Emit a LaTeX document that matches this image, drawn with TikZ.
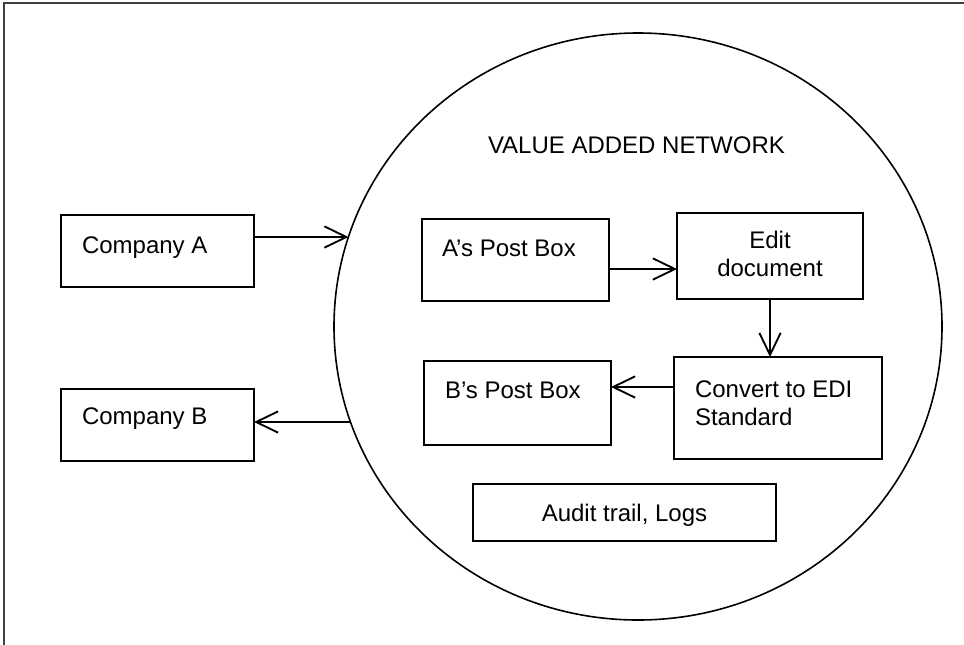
\documentclass[tikz,border=0pt]{standalone}
\usepackage{fontspec}
\setmainfont{Liberation Sans}
\usetikzlibrary{arrows.meta,shapes.geometric,calc}
\begin{document}
\begin{tikzpicture}[x=0.75pt,y=-0.75pt,
  box/.style={draw,line width=1pt,rectangle,inner sep=0,outer sep=0},
  txt/.style={inner sep=0,outer sep=0,font=\fontsize{18}{21}\selectfont},
  arr/.style={line width=1pt,-{Straight Barb[length=16.5pt,width=16pt,line width=1.4pt]}}]
\useasboundingbox (0,0) rectangle (964,644);
\begin{scope}
\clip (0,0) rectangle (964,644);
\draw[line width=1pt,black!75] (4,3) rectangle (990,670);
\end{scope}
% network
\node[ellipse,draw,line width=1.2pt,minimum width=456pt,minimum height=440.25pt,inner sep=0,outer sep=0] (van) at (638,326.5) {};
\node[txt,anchor=base west] (title) at (488,153) {VALUE ADDED NETWORK};
% boxes
\node[box,minimum width=144.75pt,minimum height=54pt] (ca) at (157.5,251) {};
\node[box,minimum width=144.75pt,minimum height=54pt] (cb) at (157.5,425) {};
\node[box,minimum width=140.25pt,minimum height=61.5pt] (ap) at (515.5,260) {};
\node[box,minimum width=139.5pt,minimum height=64.5pt] (ed) at (770,256) {};
\node[box,minimum width=156pt,minimum height=76.5pt] (cv) at (778,408) {};
\node[box,minimum width=140.25pt,minimum height=63pt] (bp) at (517.5,403) {};
\node[box,minimum width=227.25pt,minimum height=42.75pt] (au) at (624.5,512.5) {};
% texts
\node[txt,anchor=base west] (tca) at (82,253) {Company A};
\node[txt,anchor=base west] (tcb) at (82,424) {Company B};
\node[txt,anchor=base west] (tap) at (442,256) {A’s Post Box};
\node[txt,anchor=base west] (tbp) at (445,398) {B’s Post Box};
\node[txt,anchor=north,align=center] (ted) at (770,231.5) {Edit\\document};
\node[txt,anchor=north west,align=left] (tcv) at (695,380.5) {Convert to EDI\\Standard};
\node[txt,anchor=base] (tau) at (624.5,521) {Audit trail, Logs};
% connectors
\coordinate (inA) at (348.5,237);
\coordinate (outB) at (350.6,422);
\draw[arr] (ca.east |- inA) -- (inA);
\draw[arr] (ap.east |- 0,269) -- (ed.west |- 0,269);
\draw[arr] (ed.south) -- (ed.south |- cv.north);
\draw[arr] (cv.west |- 0,387) -- (bp.east |- 0,387);
\draw[arr] (outB) -- (cb.east |- outB);
\end{tikzpicture}
\end{document}
